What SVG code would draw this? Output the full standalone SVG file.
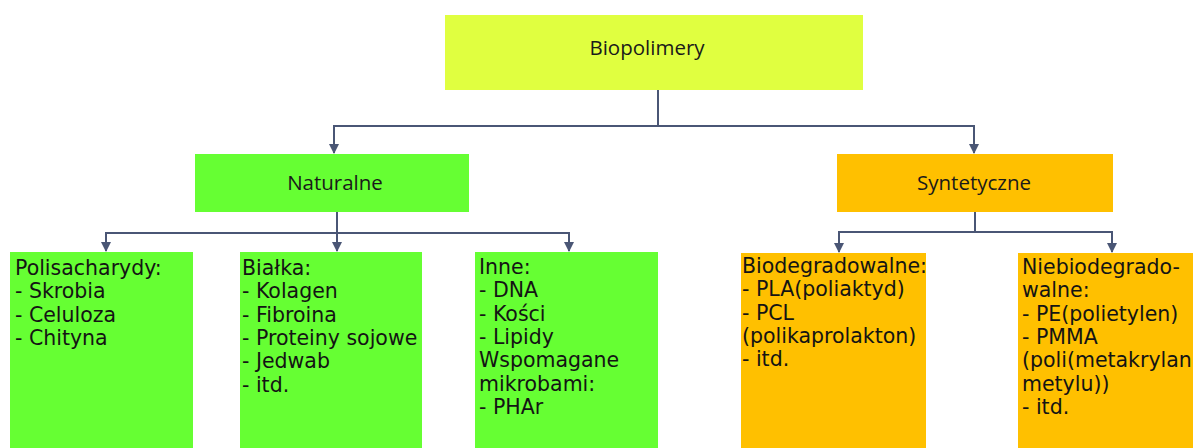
<svg xmlns="http://www.w3.org/2000/svg" width="1193" height="448" viewBox="0 0 1193 448">
<defs>
<marker id="arr" viewBox="0 0 10 10" refX="9" refY="5" markerWidth="5" markerHeight="5" orient="auto" markerUnits="strokeWidth">
<path d="M0 0 L10 5 L0 10 z" fill="#4a5675"/>
</marker>
<style>
.c{fill:none;stroke:#4a5675;stroke-width:2;marker-end:url(#arr)}
.l{fill:none;stroke:#4a5675;stroke-width:2}
.h{font-family:"Open Sans","DejaVu Sans",sans-serif;font-size:20.5px;fill:#1a1a1a;text-anchor:middle}
.t{font-family:"DejaVu Sans","Liberation Sans",sans-serif;font-size:20.5px;fill:#141414}
.y{fill:#e0ff40}
.g{fill:#66ff33}
.o{fill:#ffc000}
</style>
</defs>
<rect width="1193" height="448" fill="#fff"/>
<g id="connectors">
<path class="l" d="M658 90 V126"/>
<path class="c" d="M658 126 H334 V153"/>
<path class="c" d="M658 126 H974 V153"/>
<path class="l" d="M337 212 V233"/>
<path class="c" d="M337 233 H106 V251"/>
<path class="c" d="M337 233 V251"/>
<path class="c" d="M337 233 H569 V251"/>
<path class="l" d="M975 212 V232"/>
<path class="c" d="M975 232 H839 V252"/>
<path class="c" d="M975 232 H1112 V252"/>
</g>
<g id="biopolimery">
<rect class="y" x="445" y="15" width="418" height="75"/>
<text class="h" x="647" y="55">Biopolimery</text>
</g>
<g id="naturalne">
<rect class="g" x="195" y="154" width="274" height="58"/>
<text class="h" x="335" y="190">Naturalne</text>
</g>
<g id="syntetyczne">
<rect class="o" x="837" y="154" width="276" height="58"/>
<text class="h" x="974" y="190">Syntetyczne</text>
</g>
<g id="polisacharydy">
<rect class="g" x="10" y="252" width="183" height="196"/>
<text class="t" y="275"><tspan x="15">Polisacharydy:</tspan><tspan x="15" dy="23.3">- Skrobia</tspan><tspan x="15" dy="23.3">- Celuloza</tspan><tspan x="15" dy="23.3">- Chityna</tspan></text>
</g>
<g id="bialka">
<rect class="g" x="240" y="252" width="182" height="196"/>
<text class="t" y="275"><tspan x="242">Białka:</tspan><tspan x="242" dy="23.3">- Kolagen</tspan><tspan x="242" dy="23.3">- Fibroina</tspan><tspan x="242" dy="23.3">- Proteiny sojowe</tspan><tspan x="242" dy="23.3">- Jedwab</tspan><tspan x="242" dy="23.3">- itd.</tspan></text>
</g>
<g id="inne">
<rect class="g" x="475" y="252" width="183" height="196"/>
<text class="t" y="274"><tspan x="479">Inne:</tspan><tspan x="479" dy="23.3">- DNA</tspan><tspan x="479" dy="23.3">- Kości</tspan><tspan x="479" dy="23.3">- Lipidy</tspan><tspan x="479" dy="23.3">Wspomagane</tspan><tspan x="479" dy="23.3">mikrobami:</tspan><tspan x="479" dy="23.3">- PHAr</tspan></text>
</g>
<g id="biodegradowalne">
<rect class="o" x="741" y="253" width="185" height="195"/>
<text class="t" y="273"><tspan x="742">Biodegradowalne:</tspan><tspan x="742" dy="23.3">- PLA(poliaktyd)</tspan><tspan x="742" dy="23.3">- PCL</tspan><tspan x="742" dy="23.3">(polikaprolakton)</tspan><tspan x="742" dy="23.3">- itd.</tspan></text>
</g>
<g id="niebiodegradowalne">
<rect class="o" x="1018" y="253" width="175" height="195"/>
<text class="t" y="274"><tspan x="1022">Niebiodegrado-</tspan><tspan x="1022" dy="23.3">walne:</tspan><tspan x="1022" dy="23.3">- PE(polietylen)</tspan><tspan x="1022" dy="23.3">- PMMA</tspan><tspan x="1022" dy="23.3">(poli(metakrylan</tspan><tspan x="1022" dy="23.3">metylu))</tspan><tspan x="1022" dy="23.3">- itd.</tspan></text>
</g>
</svg>
